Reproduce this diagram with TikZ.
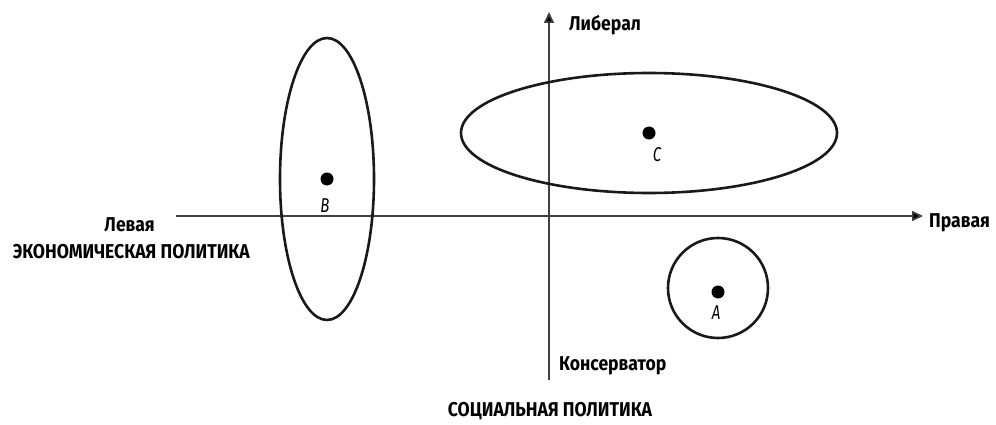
\documentclass[tikz,border=0pt]{standalone}
\usepackage{fontspec}
\setmainfont[FakeStretch=0.88]{Fira Sans}
\usetikzlibrary{arrows.meta}
\begin{document}
\begin{tikzpicture}[x=1pt,y=-1pt,
  axis/.style={line width=1.7pt,draw=black!75,-{Triangle[length=11pt,width=10pt,fill=black]}},
  shapeline/.style={line width=2.6pt,draw=black!90},
  lbl/.style={font=\bfseries\fontsize{20}{22}\selectfont,inner sep=0pt},
  pt/.style={circle,fill=black,inner sep=0pt,minimum size=13pt},
  letter/.style={font=\itshape\fontsize{20}{22}\selectfont\addfontfeatures{FakeStretch=0.75},inner sep=0pt}]
\useasboundingbox (0,0) rectangle (996,425);
\coordinate (xs) at (176,216);
\coordinate (xe) at (923,216);
\coordinate (ys) at (549,380);
\coordinate (ye) at (549,12);
\draw[axis] (xs) -- (xe);
\draw[axis] (ys) -- (ye);
\node[lbl,anchor=west] (lib) at (569,25) {Либерал};
\node[lbl,anchor=west] (kon) at (559,366) {Консерватор};
\node[lbl,anchor=west] (prav) at (929,223) {Правая};
\node[lbl,anchor=east] (lev) at (155,225) {Левая};
\node[lbl,anchor=east] (econ) at (250,252) {ЭКОНОМИЧЕСКАЯ ПОЛИТИКА};
\node[lbl] (soc) at (550,411) {СОЦИАЛЬНАЯ ПОЛИТИКА};
\draw[shapeline] (327,179) ellipse [x radius=47, y radius=141];
\draw[shapeline] (649,133) ellipse [x radius=188, y radius=60];
\draw[shapeline] (718,288) circle [radius=50];
\node[pt] (B) at (327,179) {};
\node[pt] (C) at (649,133) {};
\node[pt] (A) at (718,292) {};
\node[letter] (lB) at (325,206) {B};
\node[letter] (lC) at (657,155) {C};
\node[letter] (lA) at (716,313) {A};
\end{tikzpicture}
\end{document}
